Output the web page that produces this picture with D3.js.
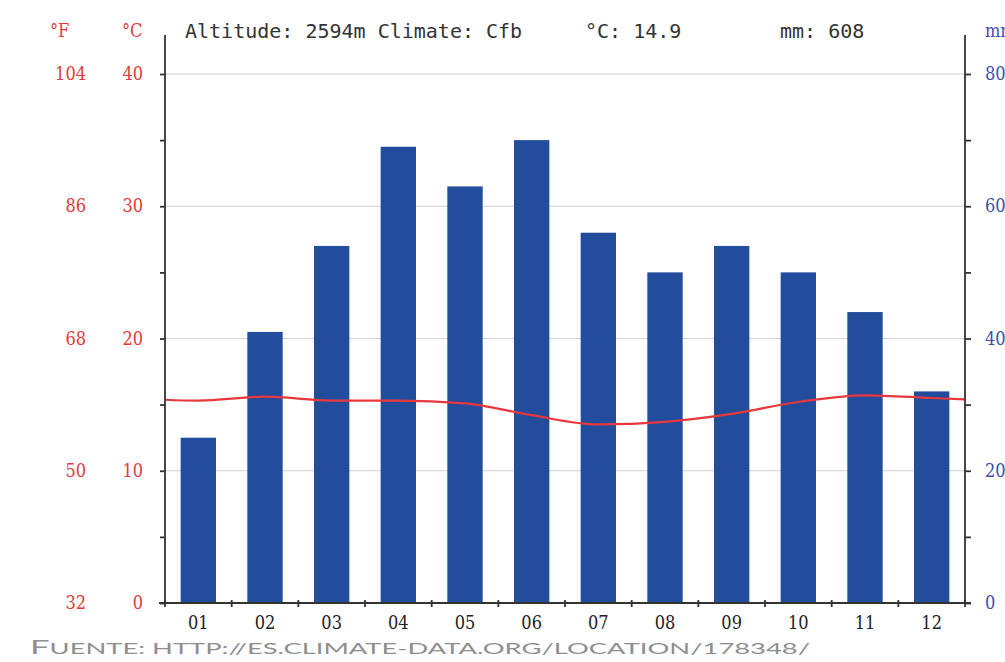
<!DOCTYPE html>
<meta charset="utf-8">
<style>
body { margin: 0; background: #fff; }
.bar { fill: #224c9c; }
.grid line { stroke: #cfcfcf; stroke-width: 1.2; }
.axis path, .axis line { stroke: #333; stroke-width: 1.8; }
.red text { fill: #e23a3a; }
.blue text { fill: #3d4fae; }
text { font-family: "DejaVu Serif", serif; font-stretch: condensed; }
text.mono { font-family: "DejaVu Sans Mono", monospace; font-stretch: normal; }
text.src { font-family: Lato, sans-serif; font-stretch: normal; }
</style>
<body>
<script src="https://d3js.org/d3.v7.min.js"></script>
<script>

// data
var months = ["01","02","03","04","05","06","07","08","09","10","11","12"];
var precip = [25, 41, 54, 69, 63, 70, 56, 50, 54, 50, 44, 32];
var temp = [15.3, 15.6, 15.3, 15.3, 15.1, 14.2, 13.5, 13.7, 14.3, 15.2, 15.7, 15.5];
var cTicks = [0, 10, 20, 30, 40];
var fTicks = [32, 50, 68, 86, 104];
var mmTicks = [0, 20, 40, 60, 80];

var width = 1005, height = 662;
var pLeft = 165, pRight = 965, pTop = 74, pBottom = 603, axisTop = 35;

var svg = d3.select("body").append("svg")
    .attr("width", width)
    .attr("height", height);

var x = d3.scaleBand().domain(months).range([pLeft, pRight])
    .paddingInner(0.47).paddingOuter(0.235);
var y = d3.scaleLinear().domain([0, 40]).range([pBottom, pTop]);
var yF = d3.scaleLinear().domain([32, 104]).range([pBottom, pTop]);
var yMm = d3.scaleLinear().domain([0, 80]).range([pBottom, pTop]);

// gridlines
svg.append("g").attr("class", "grid")
  .selectAll("line").data([10, 20, 30, 40]).enter().append("line")
    .attr("x1", pLeft).attr("x2", pRight)
    .attr("y1", function(d) { return y(d); })
    .attr("y2", function(d) { return y(d); });

// bars
svg.selectAll(".bar").data(precip).enter().append("rect")
    .attr("class", "bar")
    .attr("x", function(d, i) { return x(months[i]); })
    .attr("width", x.bandwidth())
    .attr("y", function(d) { return yMm(d); })
    .attr("height", function(d) { return pBottom - yMm(d); });

// temperature line, wrapped Dec -> Jan at the edges
svg.append("clipPath").attr("id", "plot")
  .append("rect").attr("x", pLeft).attr("y", axisTop)
    .attr("width", pRight - pLeft).attr("height", pBottom - axisTop);
var step = x.step(), half = x.bandwidth() / 2;
var pts = [[x("01") + half - step, temp[11]]];
temp.forEach(function(t, i) { pts.push([x(months[i]) + half, t]); });
pts.push([x("12") + half + step, temp[0]]);
svg.append("path")
    .datum(pts)
    .attr("clip-path", "url(#plot)")
    .attr("fill", "none")
    .attr("stroke", "#e8383c")
    .attr("stroke-width", 2.2)
    .attr("d", d3.line()
      .x(function(d) { return d[0]; })
      .y(function(d) { return y(d[1]); })
      .curve(d3.curveMonotoneX));

// left axis with 5 degree ticks
svg.append("g").attr("class", "axis")
    .attr("transform", "translate(" + pLeft + ",0)")
    .call(d3.axisLeft(y).tickValues(d3.range(0, 41, 5)).tickSize(5).tickSizeOuter(0).tickFormat(""))
    .select(".domain").attr("d", "M0," + axisTop + "V" + pBottom);

// right axis with 10 mm ticks
svg.append("g").attr("class", "axis")
    .attr("transform", "translate(" + pRight + ",0)")
    .call(d3.axisRight(yMm).tickValues(d3.range(0, 81, 10)).tickSize(6).tickSizeOuter(0).tickFormat(""))
    .select(".domain").attr("d", "M0," + axisTop + "V" + pBottom);

// bottom axis
var bx = svg.append("g").attr("class", "axis")
    .attr("transform", "translate(0," + pBottom + ")");
bx.append("path").attr("d", "M" + (pLeft - 6) + ",0H" + (pRight + 6));
bx.selectAll("line").data(d3.range(0, 13)).enter().append("line")
    .attr("x1", function(i) { return pLeft + i * step; })
    .attr("x2", function(i) { return pLeft + i * step; })
    .attr("y1", -3).attr("y2", 4);
bx.selectAll("text").data(months).enter().append("text")
    .attr("x", function(d) { return x(d) + half; })
    .attr("y", 26)
    .attr("text-anchor", "middle")
    .attr("font-size", 18)
    .attr("fill", "#222")
    .text(function(d) { return d; });

// tick labels
var gC = svg.append("g").attr("class", "red");
gC.selectAll("text").data(cTicks).enter().append("text")
    .attr("x", 143).attr("y", function(d) { return y(d) + 6; })
    .attr("text-anchor", "end").attr("font-size", 18)
    .text(function(d) { return d; });
var gF = svg.append("g").attr("class", "red");
gF.selectAll("text").data(fTicks).enter().append("text")
    .attr("x", 86).attr("y", function(d) { return yF(d) + 6; })
    .attr("text-anchor", "end").attr("font-size", 18)
    .text(function(d) { return d; });
var gM = svg.append("g").attr("class", "blue");
gM.selectAll("text").data(mmTicks).enter().append("text")
    .attr("x", 985).attr("y", function(d) { return yMm(d) + 6; })
    .attr("font-size", 18)
    .text(function(d) { return d; });

// unit labels
svg.append("text").attr("x", 50).attr("y", 37).attr("font-size", 18).attr("fill", "#e23a3a").text("°F");
svg.append("text").attr("x", 122).attr("y", 37).attr("font-size", 18).attr("fill", "#e23a3a").text("°C");
svg.append("text").attr("x", 985).attr("y", 37).attr("font-size", 18).attr("fill", "#3d4fae").text("mm");

// header (monospace)
var head = svg.append("g").attr("font-size", 20).attr("fill", "#333");
head.append("text").attr("class", "mono").attr("x", 185).attr("y", 38).text("Altitude: 2594m Climate: Cfb");
head.append("text").attr("class", "mono").attr("x", 585).attr("y", 38).text("°C: 14.9");
head.append("text").attr("class", "mono").attr("x", 780).attr("y", 38).text("mm: 608");

// source
var src = svg.append("text")
    .attr("class", "src")
    .attr("x", 30).attr("y", 654)
    .attr("fill", "#8e8e8e")
    .attr("textLength", 780).attr("lengthAdjust", "spacingAndGlyphs");
src.append("tspan").attr("font-size", 19).text("F");
src.append("tspan").attr("font-size", 15).text("UENTE: HTTP://ES.CLIMATE-DATA.ORG/LOCATION/178348/");

</script>
</body>
